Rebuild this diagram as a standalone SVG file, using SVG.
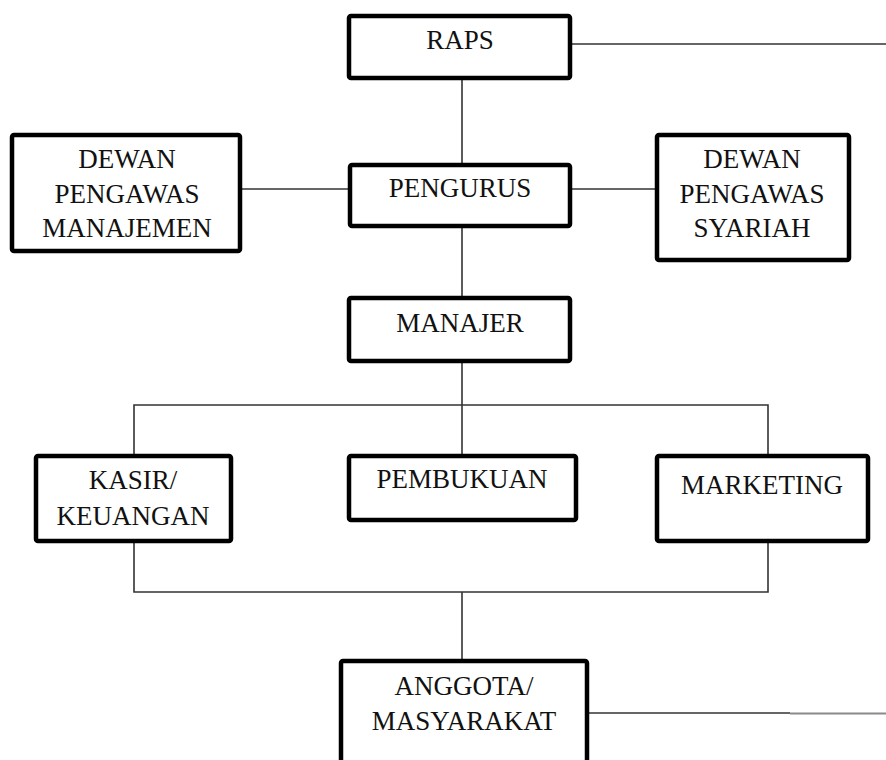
<svg xmlns="http://www.w3.org/2000/svg" width="886" height="760" viewBox="0 0 886 760">
<style>
  .box { fill: #ffffff; stroke: #000000; stroke-width: 4.5; }
  .lbl { font-family: "Liberation Serif", "Times New Roman", serif; font-size: 27px; fill: #111111; text-anchor: middle; }
  .conn { stroke: #333333; stroke-width: 1.6; fill: none; }
</style>
<rect width="886" height="760" fill="#ffffff"/>
<g id="connectors">
  <line class="conn" x1="572" y1="44" x2="886" y2="44"/>
  <line class="conn" x1="462" y1="80" x2="462" y2="163"/>
  <line class="conn" x1="242" y1="189" x2="348" y2="189"/>
  <line class="conn" x1="572" y1="189" x2="655" y2="189"/>
  <line class="conn" x1="462" y1="228" x2="462" y2="296"/>
  <line class="conn" x1="462" y1="363" x2="462" y2="454"/>
  <polyline class="conn" points="134,454 134,405 768,405 768,454"/>
  <polyline class="conn" points="134,543 134,592 768,592 768,543"/>
  <line class="conn" x1="462" y1="592" x2="462" y2="659"/>
  <line class="conn" x1="589" y1="713" x2="790" y2="713"/>
  <line x1="790" y1="713.5" x2="886" y2="713.5" stroke="#8a8a8a" stroke-width="2"/>
</g>
<g id="raps">
  <rect class="box" x="349" y="16" width="221" height="62" rx="2"/>
  <text class="lbl" x="460" y="49">RAPS</text>
</g>
<g id="dewan-pengawas-manajemen">
  <rect class="box" x="12" y="135" width="228" height="116" rx="2"/>
  <text class="lbl" x="127" y="168">DEWAN</text>
  <text class="lbl" x="127" y="203">PENGAWAS</text>
  <text class="lbl" x="127" y="237">MANAJEMEN</text>
</g>
<g id="pengurus">
  <rect class="box" x="350" y="165" width="220" height="61" rx="2"/>
  <text class="lbl" x="460" y="197">PENGURUS</text>
</g>
<g id="dewan-pengawas-syariah">
  <rect class="box" x="657" y="135" width="192" height="125" rx="2"/>
  <text class="lbl" x="752" y="168">DEWAN</text>
  <text class="lbl" x="752" y="203">PENGAWAS</text>
  <text class="lbl" x="752" y="237">SYARIAH</text>
</g>
<g id="manajer">
  <rect class="box" x="349" y="298" width="221" height="63" rx="2"/>
  <text class="lbl" x="460" y="332">MANAJER</text>
</g>
<g id="kasir-keuangan">
  <rect class="box" x="36" y="456" width="195" height="85" rx="2"/>
  <text class="lbl" x="133" y="489">KASIR/</text>
  <text class="lbl" x="133" y="525">KEUANGAN</text>
</g>
<g id="pembukuan">
  <rect class="box" x="349" y="456" width="227" height="64" rx="2"/>
  <text class="lbl" x="462" y="488">PEMBUKUAN</text>
</g>
<g id="marketing">
  <rect class="box" x="657" y="456" width="211" height="85" rx="2"/>
  <text class="lbl" x="762" y="494">MARKETING</text>
</g>
<g id="anggota-masyarakat">
  <rect class="box" x="341" y="661" width="246" height="120" rx="2"/>
  <text class="lbl" x="464" y="695">ANGGOTA/</text>
  <text class="lbl" x="464" y="730">MASYARAKAT</text>
</g>
</svg>
